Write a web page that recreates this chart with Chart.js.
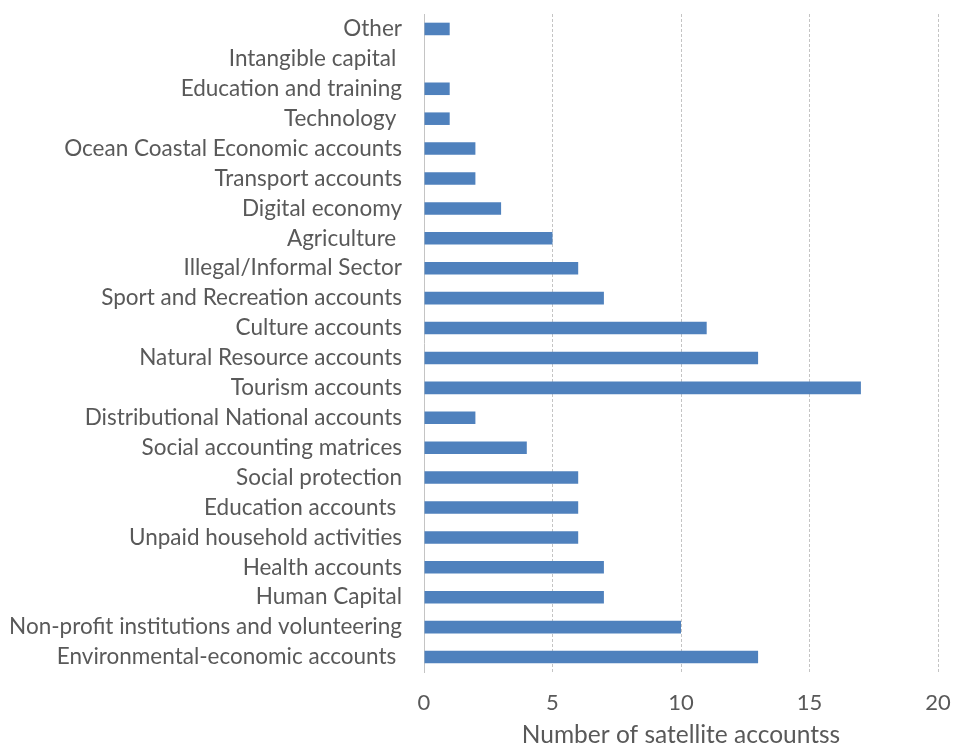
<!DOCTYPE html>
<html>
<head>
<meta charset="utf-8">
<script src="https://cdn.jsdelivr.net/npm/chart.js@4"></script>
<style>
  html, body { margin: 0; padding: 0; background: #fff; }
  canvas { display: block; }
</style>
</head>
<body>
<canvas id="satChart" width="953" height="744"></canvas>
<script>
// Satellite accounts by type (top to bottom, as drawn)
const categories = [
    'Other',
    'Intangible capital ',
    'Education and training',
    'Technology ',
    'Ocean Coastal Economic accounts',
    'Transport accounts',
    'Digital economy',
    'Agriculture ',
    'Illegal/Informal Sector',
    'Sport and Recreation accounts',
    'Culture accounts',
    'Natural Resource accounts',
    'Tourism accounts',
    'Distributional National accounts',
    'Social accounting matrices',
    'Social protection',
    'Education accounts ',
    'Unpaid household activities',
    'Health accounts',
    'Human Capital',
    'Non-profit institutions and volunteering',
    'Environmental-economic accounts '
];
const accountCounts = [1, 0, 1, 1, 2, 2, 3, 5, 6, 7, 11, 13, 17, 2, 4, 6, 6, 6, 7, 7, 10, 13];
const xTicks = [0, 5, 10, 15, 20];
const axisTitle = 'Number of satellite accountss';

const FONT = "Lato, 'Open Sans', sans-serif";
const TEXT = '#595959';

const ctx = document.getElementById('satChart');
const satChart = new Chart(ctx, {
    type: 'bar',
    data: {
        labels: categories,
        datasets: [{
            label: 'Satellite accounts',
            data: accountCounts,
            backgroundColor: '#4f81bd',
            borderWidth: 0,
            categoryPercentage: 1.0,
            barPercentage: 0.42
        }]
    },
    options: {
        indexAxis: 'y',
        responsive: false,
        animation: false,
        layout: { padding: { top: 14, right: 15, bottom: 0, left: 0 } },
        plugins: {
            legend: { display: false },
            tooltip: { enabled: false }
        },
        scales: {
            x: {
                min: 0,
                max: 20,
                afterBuildTicks: axis => { axis.ticks = xTicks.map(v => ({ value: v })); },
                grid: {
                    color: '#c4c4c4',
                    lineWidth: 1,
                    drawTicks: false
                },
                border: { display: false, dash: [3, 2] },
                ticks: {
                    color: TEXT,
                    font: { family: FONT, size: 22 },
                    padding: 18
                },
                title: {
                    display: true,
                    text: axisTitle,
                    color: TEXT,
                    font: { family: FONT, size: 24.5 },
                    padding: { top: 8, bottom: -6 }
                },
                afterFit: axis => {
                    axis.height = 72;
                    axis.paddingLeft = 0;
                    axis.paddingRight = 0;
                }
            },
            y: {
                grid: { display: false },
                border: { display: true, color: '#c4c4c4', dash: [3, 2] },
                ticks: {
                    color: TEXT,
                    font: { family: FONT, size: 22.5 },
                    padding: 14,
                    autoSkip: false
                },
                afterFit: axis => {
                    axis.width = 424;
                    axis.paddingTop = 0;
                    axis.paddingBottom = 0;
                }
            }
        }
    }
});
</script>
</body>
</html>
